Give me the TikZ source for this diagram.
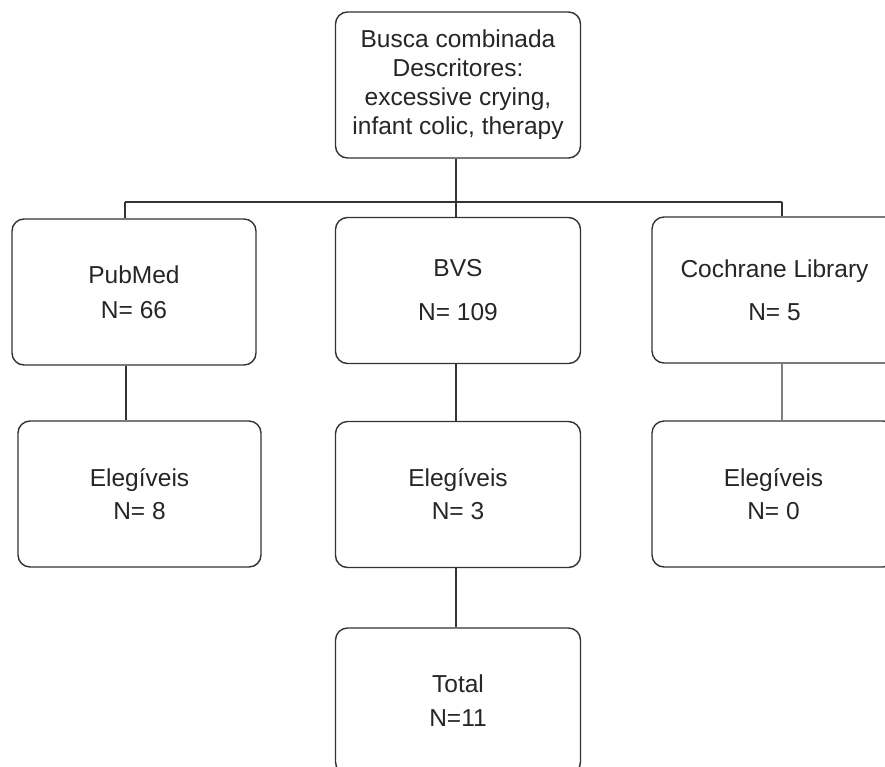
\documentclass[tikz,border=0pt]{standalone}
\usepackage{fontspec}
\setmainfont{Liberation Sans}
\begin{document}
\begin{tikzpicture}[x=1pt,y=-1pt,
  box/.style={draw=black!80,line width=1.4pt,rounded corners=12pt,fill=white,
    minimum width=245pt,minimum height=146pt,align=center,inner sep=0pt,
    font=\fontsize{24.5}{29}\selectfont,text=black!85},
  link/.style={draw=black!80,line width=1.4pt}]
\useasboundingbox (0,0) rectangle (885,766);

\node[box] (busca) at (458,85) {Busca combinada\\Descritores:\\excessive crying,\\infant colic, therapy};

\node[box,minimum width=244pt] (pubmed) at (134,292) {PubMed\\[6pt]N= 66};
\node[box] (bvs) at (458,290.5) {BVS\\[15pt]N= 109};
\node[box] (cochrane) at (774.5,290) {Cochrane Library\\[14pt]N= 5};

\node[box,minimum width=243pt] (elegA) at (139.5,494) {Elegíveis\\[4pt]N= 8};
\node[box] (elegB) at (458,494.5) {Elegíveis\\[4pt]N= 3};
\node[box,minimum width=243pt] (elegC) at (773.5,494) {Elegíveis\\[4pt]N= 0};

\node[box] (total) at (458,701) {Total\\[5pt]N=11};

\coordinate (barA) at (125,202);
\coordinate (barB) at (456,202);
\coordinate (barC) at (782,202);

\draw[link,line width=2.4pt] (busca.south -| barB) -- (barB);
\draw[link] (barA) -- (barC);
\draw[link] (barA) -- (barA |- pubmed.north);
\draw[link] (barB) -- (barB |- bvs.north);
\draw[link] (barC) -- (barC |- cochrane.north);

\draw[link] (pubmed.south -| 126,0) -- (elegA.north -| 126,0);
\draw[link] (bvs.south -| barB) -- (elegB.north -| barB);
\draw[link,draw=black!50,line width=2.6pt] (cochrane.south -| barC) -- (elegC.north -| barC);
\draw[link] (elegB.south -| barB) -- (total.north -| barB);
\end{tikzpicture}
\end{document}
